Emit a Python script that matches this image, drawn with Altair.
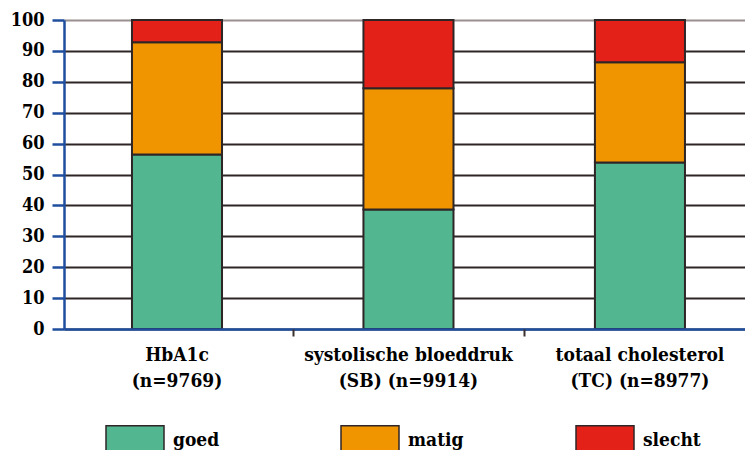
import altair as alt
import pandas as pd

categories = ["HbA1c|(n=9769)", "systolische bloeddruk|(SB) (n=9914)", "totaal cholesterol|(TC) (n=8977)"]
levels = ["goed", "matig", "slecht"]
goed = [56.5, 38.7, 53.9]
matig = [36.3, 39.2, 32.4]
slecht = [7.2, 22.1, 13.7]
colors = ["#52B690", "#F09400", "#E42118"]
y_ticks = list(range(0, 101, 10))

rows = []
for i, c in enumerate(categories):
    for j, (lvl, vals) in enumerate(zip(levels, [goed, matig, slecht])):
        rows.append({"cat": c, "level": lvl, "order": j, "value": vals[i]})
df = pd.DataFrame(rows)

FONT = "DejaVu Serif Condensed, DejaVu Serif"
BLUE = "#1f4e9e"
DARK = "#2e2626"

xscale = alt.Scale(paddingInner=0.611, paddingOuter=0.2765, align=0.531)

bars = alt.Chart(df).mark_bar(stroke=DARK, strokeWidth=2).encode(
    x=alt.X(
        "cat:N", sort=categories, scale=xscale, title=None,
        axis=alt.Axis(
            labelExpr="split(datum.label, '|')", labelAngle=0, ticks=False,
            domainColor=BLUE, domainWidth=2.5, labelFont=FONT, labelFontSize=19,
            labelFontWeight="bold", labelColor="black", labelPadding=16,
            labelLineHeight=26, zindex=1, grid=False, labelLimit=400,
        ),
    ),
    y=alt.Y(
        "value:Q", stack="zero", scale=alt.Scale(domain=[0, 100], nice=False), title=None,
        axis=alt.Axis(
            values=y_ticks, domainColor=BLUE, domainWidth=2.5, tickColor=BLUE,
            tickWidth=2.5, tickSize=12, labelFont=FONT, labelFontSize=18,
            labelFontWeight="bold", labelColor="black", labelPadding=8,
            grid=True, gridWidth=2,
            gridColor=alt.condition("datum.value == 100", alt.value("#9a9090"), alt.value(DARK)),
        ),
    ),
    color=alt.Color(
        "level:N", sort=levels, scale=alt.Scale(domain=levels, range=colors),
        legend=alt.Legend(
            title=None, orient="none", direction="horizontal", columns=3,
            legendX=41, legendY=390, gridAlign="all", columnPadding=107,
            symbolType="M-1,-0.5H1V0.5H-1Z", symbolSize=3364,
            symbolStrokeColor=DARK, symbolStrokeWidth=1.5, symbolOpacity=1,
            labelFont=FONT, labelFontSize=19, labelFontWeight="bold",
            labelColor="black", labelOffset=8, padding=0,
        ),
    ),
    order=alt.Order("order:Q"),
)

ticks = alt.Chart(df).mark_rule(opacity=0).encode(
    x=alt.X(
        "cat:N", sort=categories, scale=xscale, title=None,
        axis=alt.Axis(
            labels=False, domain=False, ticks=True, tickColor="#3a3030",
            tickWidth=2, tickSize=7, bandPosition=1, tickOffset=70.75,
            orient="bottom", grid=False, zindex=2,
        ),
    ),
)

chart = alt.layer(bars, ticks).resolve_axis(x="independent").properties(
    width=681, height=309,
    autosize=alt.AutoSizeParams(type="none"),
    padding={"left": 64, "top": 20, "right": 0, "bottom": 121},
    background="white",
).configure_view(stroke=None)

chart.save("out.html", embed_options={"renderer": "svg", "actions": False})
